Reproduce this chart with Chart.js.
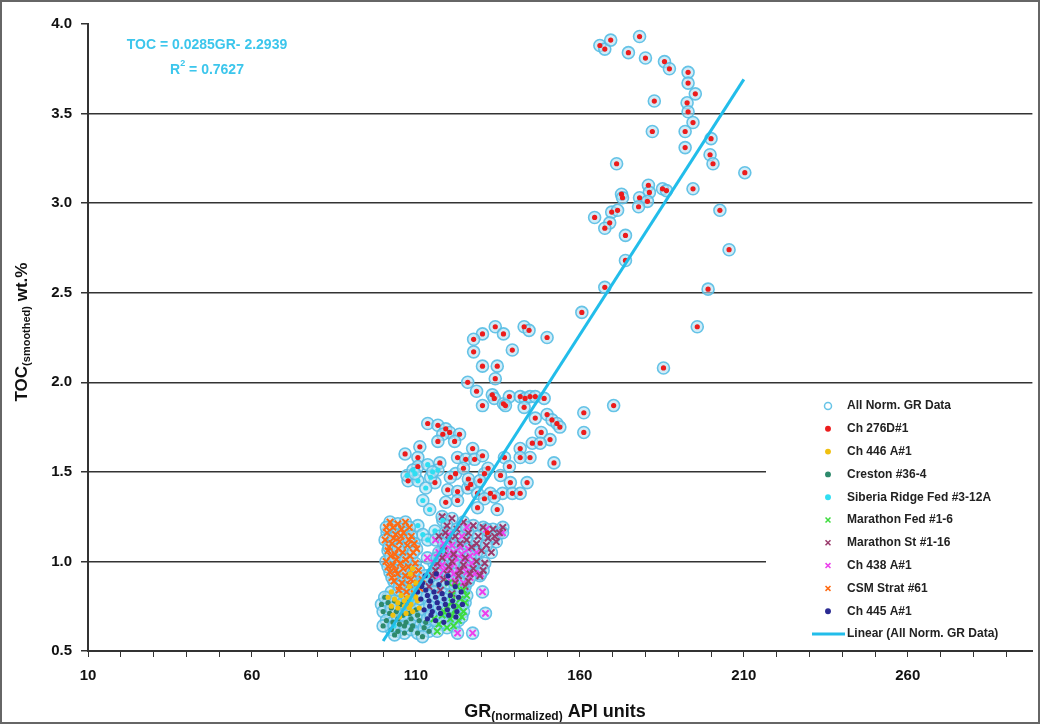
<!DOCTYPE html>
<html>
<head>
    <title>TOC vs normalized GR</title>
    <style>
        body { margin: 0; background: #fff; overflow: hidden; }
        #wrap { width: 1040px; height: 724px; }
    </style>
</head>
<body>
    <div id="wrap"><canvas id="tocChart"></canvas></div>

    <script src="https://cdn.jsdelivr.net/npm/chart.js"></script>
    <script>
        // [GR (API), TOC (wt.%)] pairs per well
        var ch276d = [
            [166.1,3.88],[167.6,3.86],[169.4,3.91],[178.2,3.93],[174.8,3.84],[180.0,3.81],[185.8,3.79],[187.3,3.75],
            [193.0,3.73],[193.0,3.67],[195.2,3.61],[182.7,3.57],[192.7,3.56],[193.0,3.51],[194.5,3.45],[182.1,3.40],
            [192.1,3.40],[192.1,3.31],[200.0,3.36],[199.7,3.27],[200.6,3.22],[171.2,3.22],[210.3,3.17],[180.9,3.10],
            [181.2,3.06],[185.2,3.08],[186.4,3.07],[194.5,3.08],[172.7,3.05],[173.0,3.03],[178.2,3.03],[180.6,3.01],
            [177.9,2.98],[169.7,2.95],[171.5,2.96],[202.7,2.96],[164.5,2.92],[169.1,2.89],[167.6,2.86],[173.9,2.82],
            [173.9,2.68],[205.5,2.74],[167.6,2.53],[199.1,2.52],[160.6,2.39],[195.8,2.31],[185.5,2.08],[161.2,1.83],
            [161.2,1.72],[170.3,1.87],
            [134.2,2.31],[136.7,2.27],[130.3,2.27],[127.6,2.24],[143.0,2.31],[144.5,2.29],[150.0,2.25],[127.6,2.17],
            [139.4,2.18],[130.3,2.09],[134.8,2.09],[125.8,2.00],[134.2,2.02],[128.5,1.95],[133.3,1.93],[133.9,1.91],
            [136.7,1.88],[130.3,1.87],[138.5,1.92],[141.8,1.92],[143.3,1.91],[144.8,1.92],[146.4,1.92],[143.0,1.86],
            [149.1,1.91],[137.3,1.87],[146.4,1.80],[150.0,1.82],[151.5,1.79],[153.0,1.77],[148.2,1.72],[153.9,1.75],
            [150.9,1.68],[152.1,1.55],[145.5,1.66],[147.9,1.66],[141.8,1.63],[144.8,1.58],[141.8,1.58],
            [113.6,1.77],[116.7,1.76],[119.1,1.74],[120.3,1.72],[118.2,1.71],[123.3,1.71],[116.7,1.67],[121.8,1.67],
            [111.2,1.64],[127.3,1.63],[106.7,1.60],[110.6,1.58],[122.7,1.58],[125.2,1.57],[127.9,1.57],[130.3,1.59],
            [117.3,1.55],[130.9,1.49],[137.0,1.58],[138.5,1.53],[135.8,1.48],[138.8,1.44],[143.9,1.44],[122.1,1.49],
            [115.8,1.44],[119.7,1.40],[122.7,1.39],[125.8,1.41],[128.8,1.38],[132.7,1.38],[136.4,1.38],[139.4,1.38],
            [141.8,1.38],[107.6,1.45],[126.7,1.43],[130.9,1.35],[133.9,1.36],[119.1,1.33],[122.7,1.34],[128.8,1.30],
            [134.8,1.29],[131.8,1.16],[124.5,1.52],[126.0,1.46],[129.5,1.45],[132.0,1.52],[120.5,1.47],[110.6,1.53]
        ];
        var ch446a = [
            [101.5,0.80],[103.5,0.79],[105.5,0.81],[107.5,0.80],[109.5,0.82],[102.5,0.75],[104.5,0.74],[106.5,0.75],
            [108.5,0.76],[110.5,0.78],[103.0,0.70],[105.0,0.69],[107.0,0.71],[109.0,0.72],[111.0,0.74],[108.0,0.86],
            [110.0,0.88],[109.0,0.96],[108.3,0.93],[102.5,0.83],[104.5,0.77],[106.5,0.78],[108.0,0.74],[110.0,0.80]
        ];
        var creston = [
            [99.5,0.76],[101.5,0.77],[103.5,0.78],[105.5,0.76],[107.5,0.77],[100.0,0.72],[102.0,0.71],[104.0,0.72],
            [106.0,0.70],[108.0,0.71],[110.0,0.73],[101.0,0.67],[103.0,0.66],[105.0,0.65],[107.0,0.66],[109.0,0.64],
            [111.0,0.67],[102.5,0.62],[104.5,0.61],[106.5,0.60],[108.5,0.62],[110.5,0.60],[112.5,0.63],[114.0,0.61],
            [113.0,0.66],[100.5,0.80],[102.5,0.74],[104.5,0.68],[106.5,0.64],[108.5,0.68],[110.5,0.70],[112.0,0.58],
            [103.5,0.59],[100.0,0.64]
        ];
        var siberia = [
            [107.3,1.48],[109.1,1.51],[110.6,1.45],[113.0,1.41],[114.5,1.47],[116.7,1.51],[112.1,1.34],[114.2,1.29],
            [110.6,1.20],[112.1,1.15],[113.6,1.12],[115.8,1.17],[118.2,1.06],[116.1,1.01],[113.6,0.92],[110.0,0.84],
            [108.2,0.78],[106.1,0.70],[103.3,0.64],[119.7,0.92],[118.2,1.23],[113.6,1.54],[115.1,1.50],[109.7,1.49]
        ];
        var marathonFed = [
            [120.0,0.88],[122.5,0.86],[124.5,0.84],[121.0,0.81],[123.5,0.79],[125.0,0.77],[119.5,0.75],[122.0,0.73],
            [124.5,0.72],[118.0,0.70],[120.5,0.68],[123.0,0.67],[117.0,0.65],[119.5,0.63],[121.5,0.64],[115.5,0.68],
            [125.5,0.81],[121.0,0.77],[123.0,0.75],[118.5,0.72],[121.0,0.70],[116.5,0.61],[124.0,0.69]
        ];
        var marathonSt = [
            [118.0,1.25],[121.0,1.24],[124.5,1.22],[127.5,1.20],[130.5,1.19],[133.5,1.18],[135.5,1.16],[119.5,1.20],
            [122.5,1.18],[126.0,1.16],[129.0,1.14],[132.0,1.13],[134.5,1.11],[117.0,1.14],[120.0,1.12],[123.5,1.10],
            [127.0,1.08],[130.0,1.06],[133.0,1.05],[118.5,1.06],[121.5,1.04],[125.0,1.02],[128.5,1.00],[131.0,0.99],
            [116.5,0.99],[120.0,0.97],[123.5,0.95],[126.5,0.93],[129.5,0.92],[115.0,0.92],[118.5,0.90],[122.0,0.88],
            [125.0,0.86],[114.0,0.86],[117.5,0.84],[121.0,0.82],[119.0,1.16],[122.0,1.14],[125.5,1.12],[128.5,1.10],
            [131.5,1.09],[118.0,1.02],[121.0,1.00],[124.5,0.98],[127.5,0.96],[130.5,0.95],[116.0,0.95],[119.5,0.93],
            [123.0,0.92],[126.0,0.89],[134.0,1.14],[136.5,1.19]
        ];
        var ch438a = [
            [116.0,1.12],[118.5,1.10],[121.0,1.09],[123.5,1.08],[126.0,1.07],[128.5,1.05],[117.0,1.05],[119.5,1.03],
            [122.0,1.02],[124.5,1.01],[127.0,0.99],[115.5,0.99],[118.0,0.98],[120.5,0.96],[123.0,0.95],[125.5,0.94],
            [128.0,0.93],[117.0,0.92],[119.5,0.91],[122.0,0.89],[124.5,0.88],[120.0,1.15],[124.0,1.14],[113.5,1.02],
            [129.7,0.93],[130.3,0.83],[131.2,0.71],[122.7,0.60],[127.3,0.60],[136.4,1.16],[131.5,1.18],[125.5,1.19],
            [119.0,1.07],[121.5,1.05],[124.0,1.04],[126.5,1.03],[116.5,1.02],[121.5,0.99],[125.0,0.97],[118.5,0.95],
            [121.5,0.93],[126.5,0.91]
        ];
        var csmStrat = [
            [102.1,1.22],[104.5,1.21],[106.8,1.22],[103.0,1.19],[105.6,1.18],[108.0,1.19],[101.2,1.16],[103.8,1.15],
            [106.2,1.16],[108.6,1.14],[100.6,1.12],[102.7,1.10],[105.0,1.11],[107.4,1.09],[109.5,1.10],[101.5,1.06],
            [103.6,1.04],[106.0,1.05],[108.3,1.03],[100.9,1.00],[103.0,0.98],[105.3,0.99],[107.7,0.97],[109.8,0.99],
            [102.1,0.94],[104.4,0.93],[106.8,0.92],[109.1,0.93],[103.3,0.89],[105.7,0.88],[108.0,0.87],[110.4,0.88],
            [104.8,0.84],[107.1,0.83],[109.5,0.82],[111.2,0.85],[104.0,1.01],[101.8,1.08],[101.0,1.19],[103.2,1.13],
            [105.5,1.14],[107.9,1.12],[110.2,1.07],[102.3,1.03],[104.6,1.07],[106.9,1.01],[109.2,1.05],[101.5,0.97],
            [103.8,0.95],[106.1,0.96],[108.5,0.90],[110.8,0.95],[102.7,0.91],[105.0,0.86],[111.9,0.90],[107.4,0.79]
        ];
        var ch445a = [
            [112.0,0.88],[114.5,0.89],[117.0,0.87],[119.5,0.88],[122.0,0.86],[113.0,0.84],[115.5,0.83],[118.0,0.82],
            [120.5,0.81],[123.0,0.80],[111.5,0.79],[114.0,0.78],[116.5,0.77],[119.0,0.76],[121.5,0.75],[112.5,0.73],
            [115.0,0.72],[117.5,0.71],[120.0,0.70],[122.5,0.72],[113.5,0.68],[116.0,0.67],[118.5,0.66],[110.5,0.83],
            [112.8,0.92],[116.2,0.93],[119.8,0.92],[113.5,0.81],[116.0,0.80],[118.6,0.79],[121.2,0.78],[123.8,0.83],
            [114.2,0.75],[117.0,0.74],[119.6,0.73],[122.2,0.69],[114.6,0.70],[111.8,0.86],[124.2,0.76]
        ];

        // linear fit over all normalized GR data
        var trendSlope = 0.0285;
        var trendIntercept = -2.2939;
        var trendR2 = 0.7627;
        var trendGR = [100, 210];

        var allNorm = [].concat(ch276d, ch446a, creston, siberia, marathonFed, marathonSt, ch438a, csmStrat, ch445a);

        function pts(arr) {
            return arr.map(function (p) { return { x: p[0], y: p[1] }; });
        }

        function dots(label, data, color, order) {
            return { label: label, data: pts(data), pointStyle: 'circle', pointRadius: 2.6,
                     backgroundColor: color, borderColor: color, borderWidth: 0, order: order };
        }
        function crosses(label, data, color, order) {
            return { label: label, data: pts(data), pointStyle: 'crossRot', pointRadius: 4.5,
                     backgroundColor: color, borderColor: color, borderWidth: 2, order: order };
        }

        var font = "'Liberation Sans', Arial, sans-serif";

        // legend, equation, axis titles with subscripts and the outer frame
        var overlay = {
            id: 'overlay',
            afterDraw: function (chart) {
                var ctx = chart.ctx;
                ctx.save();

                ctx.fillStyle = '#fff';
                ctx.fillRect(766, 389, 272, 259);

                var ly = 406;
                ctx.font = 'bold 12px ' + font;
                ctx.textBaseline = 'middle';
                ctx.textAlign = 'left';
                chart.data.datasets.forEach(function (ds) {
                    if (ds.type === 'line') {
                        ctx.strokeStyle = ds.borderColor;
                        ctx.lineWidth = 3;
                        ctx.beginPath();
                        ctx.moveTo(812, ly);
                        ctx.lineTo(845, ly);
                        ctx.stroke();
                    } else {
                        ctx.fillStyle = ds.legendFill || ds.backgroundColor;
                        ctx.strokeStyle = ds.borderColor;
                        ctx.lineWidth = ds.legendBorder || 1.5;
                        Chart.helpers.drawPoint(ctx, {
                            pointStyle: ds.pointStyle,
                            radius: ds.legendRadius || (ds.pointStyle === 'crossRot' ? 3.5 : 2.2),
                            borderWidth: ctx.lineWidth,
                            rotation: 0
                        }, 828, ly);
                    }
                    ctx.fillStyle = '#222';
                    ctx.fillText(ds.label, 847, ly);
                    ly += 22.8;
                });

                // regression equation
                ctx.fillStyle = '#3cc6ec';
                ctx.font = 'bold 14px ' + font;
                ctx.textAlign = 'center';
                ctx.fillText('TOC = ' + trendSlope + 'GR- ' + Math.abs(trendIntercept), 207, 45);
                var r1 = 'R', r2 = ' = ' + trendR2;
                ctx.font = 'bold 14px ' + font;
                var w1 = ctx.measureText(r1).width, w2 = ctx.measureText(r2).width;
                ctx.font = 'bold 9px ' + font;
                var ws = ctx.measureText('2').width;
                var sx = 207 - (w1 + ws + w2) / 2;
                ctx.textAlign = 'left';
                ctx.font = 'bold 14px ' + font;
                ctx.fillText(r1, sx, 70);
                ctx.font = 'bold 9px ' + font;
                ctx.fillText('2', sx + w1, 64);
                ctx.font = 'bold 14px ' + font;
                ctx.fillText(r2, sx + w1 + ws, 70);

                // axis titles
                ctx.fillStyle = '#111';
                drawSub(ctx, 'GR', '(normalized)', ' API units', 555, 712, 18, 12);
                ctx.save();
                ctx.translate(22, 332);
                ctx.rotate(-Math.PI / 2);
                drawSub(ctx, 'TOC', '(smoothed)', ' wt.%', 0, 0, 17, 11);
                ctx.restore();

                // frame
                ctx.strokeStyle = '#666';
                ctx.lineWidth = 2;
                ctx.strokeRect(1, 1, 1038, 722);
                ctx.restore();
            }
        };

        function drawSub(ctx, main, sub, tail, cx, cy, big, small) {
            ctx.textBaseline = 'middle';
            ctx.textAlign = 'left';
            ctx.font = 'bold ' + big + 'px ' + font;
            var a = ctx.measureText(main).width, c = ctx.measureText(tail).width;
            ctx.font = 'bold ' + small + 'px ' + font;
            var b = ctx.measureText(sub).width;
            var x = cx - (a + b + c) / 2;
            ctx.font = 'bold ' + big + 'px ' + font;
            ctx.fillText(main, x, cy);
            ctx.font = 'bold ' + small + 'px ' + font;
            ctx.fillText(sub, x + a, cy + 5);
            ctx.font = 'bold ' + big + 'px ' + font;
            ctx.fillText(tail, x + a + b, cy);
        }

        var ctx = document.getElementById('tocChart').getContext('2d');
        new Chart(ctx, {
            type: 'scatter',
            data: {
                datasets: [
                    { label: 'All Norm. GR Data', data: pts(allNorm), pointStyle: 'circle', pointRadius: 6,
                      backgroundColor: 'rgba(176,222,242,0.6)', borderColor: 'rgba(86,190,228,0.9)', borderWidth: 1.6,
                      legendFill: 'rgba(0,0,0,0)', legendRadius: 3.5, legendBorder: 1.5, order: 20 },
                    dots('Ch 276D#1', ch276d, '#ec1c1c', 5),
                    dots('Ch 446 A#1', ch446a, '#f0c010', 5),
                    dots('Creston #36-4', creston, '#2e8a6c', 5),
                    dots('Siberia Ridge Fed #3-12A', siberia, '#30def2', 5),
                    crosses('Marathon Fed #1-6', marathonFed, '#3edc3e', 5),
                    crosses('Marathon St #1-16', marathonSt, '#9a3a6c', 5),
                    crosses('Ch 438 A#1', ch438a, '#ec40ec', 5),
                    crosses('CSM Strat #61', csmStrat, '#ff6a12', 5),
                    dots('Ch 445 A#1', ch445a, '#2a2a92', 4),
                    { type: 'line', label: 'Linear (All Norm. GR Data)',
                      data: trendGR.map(function (g) { return { x: g, y: trendSlope * g + trendIntercept }; }),
                      borderColor: '#22bdea', borderWidth: 3, pointRadius: 0, fill: false, order: 0 }
                ]
            },
            options: {
                responsive: true,
                maintainAspectRatio: false,
                animation: false,
                devicePixelRatio: 1,
                layout: { padding: { left: 0, top: 24, right: 2, bottom: 0 } },
                plugins: { legend: { display: false }, tooltip: { enabled: false } },
                scales: {
                    x: {
                        type: 'linear',
                        min: 10,
                        max: 298,
                        afterFit: function (s) { s.height = 73; },
                        grid: { drawOnChartArea: false, color: '#333', tickLength: 6, tickColor: '#333' },
                        border: { color: '#333', width: 2 },
                        ticks: {
                            stepSize: 10,
                            autoSkip: false,
                            includeBounds: false,
                            maxRotation: 0,
                            padding: 10,
                            color: '#111',
                            font: { family: font, size: 15, weight: 'bold' },
                            callback: function (v) { return (v - 10) % 50 === 0 ? String(v) : ''; }
                        }
                    },
                    y: {
                        min: 0.5,
                        max: 4.0,
                        afterFit: function (s) { s.width = 88; },
                        grid: {
                            color: function (c) { return c.tick && c.tick.value === 4 ? 'rgba(0,0,0,0)' : '#333'; },
                            lineWidth: 1.5,
                            tickLength: 7,
                            tickColor: '#333'
                        },
                        border: { color: '#333', width: 2 },
                        ticks: {
                            stepSize: 0.5,
                            padding: 9,
                            color: '#111',
                            font: { family: font, size: 15, weight: 'bold' },
                            callback: function (v) { return v.toFixed(1); }
                        }
                    }
                }
            },
            plugins: [overlay]
        });
    </script>
</body>
</html>
